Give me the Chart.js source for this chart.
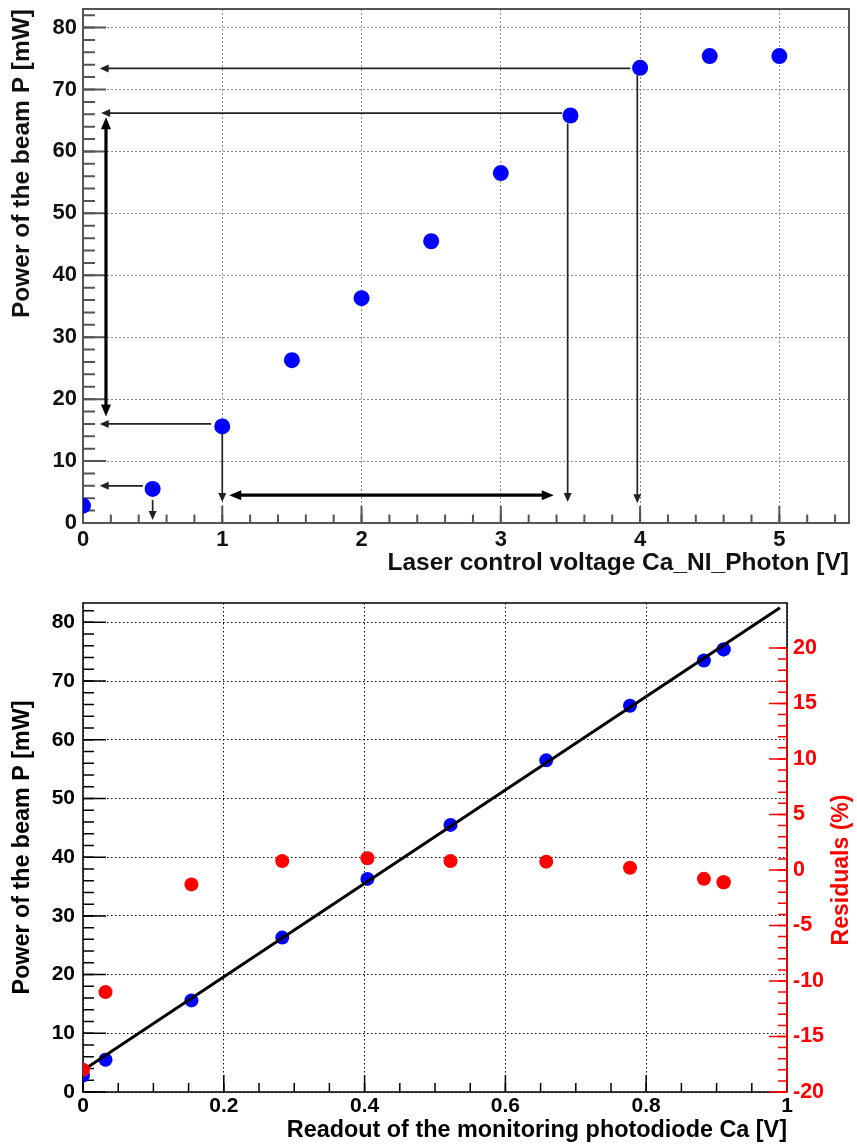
<!DOCTYPE html>
<html><head><meta charset="utf-8">
<script src="https://cdn.jsdelivr.net/npm/chart.js@4.4.0/dist/chart.umd.min.js"></script>
<style>
html,body{margin:0;padding:0;background:#fff;}
#wrap{position:relative;width:857px;height:1146px;background:#fff;}
#c1{position:absolute;left:0;top:0;}
#c2{position:absolute;left:0;top:575px;}
</style></head><body>
<div id="wrap"><canvas id="c1" width="857" height="575"></canvas><canvas id="c2" width="857" height="571"></canvas></div>
<script>
// ---------- data ----------
const voltage    = [0, 0.5, 1, 1.5, 2, 2.5, 3, 3.5, 4, 4.5, 5];
const power      = [2.8, 5.5, 15.6, 26.3, 36.3, 45.5, 56.5, 65.8, 73.5, 75.4, 75.4];
const photodiode = [0, 0.032, 0.154, 0.283, 0.404, 0.522, 0.658, 0.777, 0.882, 0.910, 0.910];
const residuals  = [-18.0, -11.0, -1.3, 0.8, 1.05, 0.8, 0.75, 0.2, -0.8, -1.1, -1.1];
const fitX = [0, 0.99];
const fitY = [3.7, 82.5];
// arrows drawn on the top chart, in data units: [xFrom, yFrom, xTo, yTo]
const arrowsThin = [
  [3.93, 73.4, 0.12, 73.4],
  [3.44, 66.2, 0.13, 66.2],
  [0.92, 16.0, 0.12, 16.0],
  [0.43, 6.0, 0.12, 6.0],
  [0.5, 3.7, 0.5, 0.5],
  [1.0, 14.5, 1.0, 3.4],
  [3.48, 64.5, 3.48, 3.4],
  [3.98, 72.3, 3.98, 3.2]
];
const arrowsDouble = [
  [0.165, 17.2, 0.165, 65.5],
  [1.05, 4.5, 3.38, 4.5]
];
const yTitle = 'Power of the beam P [mW]';
const xTitleTop = 'Laser control voltage Ca_NI_Photon [V]';
const xTitleBottom = 'Readout of the monitoring photodiode Ca [V]';
const y2Title = 'Residuals (%)';

// ---------- helpers ----------
const FONT = "'Liberation Sans', Arial, Helvetica, sans-serif";
Chart.defaults.font.family = FONT;
Chart.defaults.font.weight = 'bold';
Chart.defaults.color = '#000';
const fmt = v => String(Math.round(v * 100) / 100);

function tickSet(ctx, scale, a, from, to, step, len, side, color, width) {
  ctx.save();
  ctx.strokeStyle = color; ctx.lineWidth = width;
  ctx.beginPath();
  const n = Math.floor((to - from) / step + 1e-6);
  for (let k = 0; k <= n; k++) {
    const v = from + k * step;
    const p = scale.getPixelForValue(v);
    if (side === 'bottom') { ctx.moveTo(p, a.bottom); ctx.lineTo(p, a.bottom - len); }
    else if (side === 'left') { ctx.moveTo(a.left, p); ctx.lineTo(a.left + len, p); }
    else { ctx.moveTo(a.right, p); ctx.lineTo(a.right - len, p); }
  }
  ctx.stroke();
  ctx.restore();
}
function drawArrow(ctx, x1, y1, x2, y2, headLen, headHalf, lw, color, both) {
  ctx.save();
  ctx.strokeStyle = color; ctx.fillStyle = color; ctx.lineWidth = lw;
  const ang = Math.atan2(y2 - y1, x2 - x1);
  const c = Math.cos(ang), s = Math.sin(ang);
  const sx = both ? x1 + c * headLen * 0.6 : x1, sy = both ? y1 + s * headLen * 0.6 : y1;
  ctx.beginPath(); ctx.moveTo(sx, sy); ctx.lineTo(x2 - c * headLen * 0.6, y2 - s * headLen * 0.6); ctx.stroke();
  const head = (tx, ty, cc, ss) => {
    ctx.beginPath();
    ctx.moveTo(tx, ty);
    ctx.lineTo(tx - headLen * cc + headHalf * ss, ty - headLen * ss - headHalf * cc);
    ctx.lineTo(tx - headLen * cc - headHalf * ss, ty - headLen * ss + headHalf * cc);
    ctx.closePath(); ctx.fill();
  };
  head(x2, y2, c, s);
  if (both) head(x1, y1, -c, -s);
  ctx.restore();
}
const noPadY = s => { s.paddingTop = 0; s.paddingBottom = 0; };
const noPadX = s => { s.paddingLeft = 0; s.paddingRight = 0; };

// ---------- top chart ----------
const topDecor = {
  id: 'topDecor',
  beforeDatasetsDraw(chart) {
    const { ctx, chartArea: a, scales: { x, y } } = chart;
    tickSet(ctx, x, a, 0, 5.5, 0.2, 8.5, 'bottom', '#555', 2);
    tickSet(ctx, x, a, 0, 5.5, 1, 17, 'bottom', '#555', 2);
    tickSet(ctx, y, a, 0, 83, 2, 12, 'left', '#555', 2);
    tickSet(ctx, y, a, 0, 83, 10, 23, 'left', '#555', 2);
    ctx.save(); ctx.strokeStyle = '#555'; ctx.lineWidth = 2;
    ctx.strokeRect(a.left, a.top, a.right - a.left, a.bottom - a.top); ctx.restore();
    arrowsThin.forEach(r => drawArrow(ctx, x.getPixelForValue(r[0]), y.getPixelForValue(r[1]),
      x.getPixelForValue(r[2]), y.getPixelForValue(r[3]), 9, 4, 1.7, '#222', false));
    arrowsDouble.forEach(r => drawArrow(ctx, x.getPixelForValue(r[0]), y.getPixelForValue(r[1]),
      x.getPixelForValue(r[2]), y.getPixelForValue(r[3]), 12, 5, 3.2, '#000', true));
  }
};

new Chart(document.getElementById('c1'), {
  type: 'scatter',
  data: { datasets: [{
    data: voltage.map((v, i) => ({ x: v, y: power[i] })),
    backgroundColor: '#0000ff', borderWidth: 0, pointRadius: 8, pointHoverRadius: 8
  }] },
  options: {
    responsive: false, animation: false, devicePixelRatio: 1,
    layout: { padding: { top: 9, right: 5, left: 0, bottom: 0 } },
    plugins: { legend: { display: false }, tooltip: { enabled: false } },
    scales: {
      x: {
        type: 'linear', min: 0, max: 5.5,
        afterFit: s => { s.height = 52; noPadX(s); },
        ticks: { stepSize: 1, includeBounds: false, padding: 4, maxRotation: 0, autoSkip: false,
                 callback: fmt, color: '#111', font: { size: 22, weight: 'bold', lineHeight: 1.2 } },
        grid: { color: '#8a8a8a', lineWidth: 1, drawTicks: false },
        border: { display: false, dash: [2, 2] },
        title: { display: true, text: xTitleTop, align: 'end', color: '#111',
                 font: { size: 24.5, weight: 'bold', lineHeight: 1 }, padding: { top: 0, bottom: 0 } }
      },
      y: {
        type: 'linear', min: 0, max: 83,
        afterFit: s => { s.width = 83; noPadY(s); },
        ticks: { stepSize: 10, includeBounds: false, padding: 6, color: '#111', callback: fmt,
                 font: { size: 22, weight: 'bold', lineHeight: 1.2 } },
        grid: { color: '#8a8a8a', lineWidth: 1, drawTicks: false },
        border: { display: false, dash: [2, 2] },
        title: { display: true, text: yTitle, align: 'end', color: '#111',
                 font: { size: 24.5, weight: 'bold', lineHeight: 1 }, padding: { top: 10, bottom: 0 } }
      }
    }
  },
  plugins: [topDecor]
});

// ---------- bottom chart ----------
const botDecor = {
  id: 'botDecor',
  beforeDatasetsDraw(chart) {
    const { ctx, chartArea: a, scales: { x, y, y2 } } = chart;
    tickSet(ctx, x, a, 0, 1, 0.05, 9, 'bottom', '#000', 1.5);
    tickSet(ctx, x, a, 0, 1, 0.2, 17, 'bottom', '#000', 1.5);
    tickSet(ctx, y, a, 0, 83.3, 2, 11, 'left', '#000', 1.5);
    tickSet(ctx, y, a, 0, 83.3, 10, 23, 'left', '#000', 1.5);
    ctx.save(); ctx.strokeStyle = '#000'; ctx.lineWidth = 1.5;
    ctx.strokeRect(a.left, a.top, a.right - a.left, a.bottom - a.top); ctx.restore();
    ctx.save(); ctx.strokeStyle = '#ff0000'; ctx.lineWidth = 1.5;
    ctx.beginPath(); ctx.moveTo(a.right, y2.getPixelForValue(-20)); ctx.lineTo(a.right, y2.getPixelForValue(20)); ctx.stroke();
    ctx.restore();
    tickSet(ctx, y2, a, -20, 20, 1, 9, 'right', '#ff0000', 1.5);
    tickSet(ctx, y2, a, -20, 20, 5, 18, 'right', '#ff0000', 1.5);
  },
  afterDraw(chart) {
    const { ctx, chartArea: a, scales: { y2 } } = chart;
    ctx.save();
    ctx.translate(a.right + 55, y2.getPixelForValue(0));
    ctx.rotate(-Math.PI / 2);
    ctx.font = 'bold 23px ' + FONT;
    ctx.fillStyle = '#ff0000'; ctx.textAlign = 'center'; ctx.textBaseline = 'middle';
    ctx.fillText(y2Title, 0, 0);
    ctx.restore();
  }
};

new Chart(document.getElementById('c2'), {
  type: 'scatter',
  data: { datasets: [
    { data: photodiode.map((v, i) => ({ x: v, y: residuals[i] })), yAxisID: 'y2',
      backgroundColor: '#ff0000', borderWidth: 0, pointRadius: 7, pointHoverRadius: 7, order: 0 },
    { data: fitX.map((v, i) => ({ x: v, y: fitY[i] })), yAxisID: 'y', showLine: true,
      borderColor: '#000', borderWidth: 3, pointRadius: 0, pointHoverRadius: 0, order: 1 },
    { data: photodiode.map((v, i) => ({ x: v, y: power[i] })), yAxisID: 'y',
      backgroundColor: '#0000ff', borderWidth: 0, pointRadius: 7, pointHoverRadius: 7, order: 2 }
  ] },
  options: {
    responsive: false, animation: false, devicePixelRatio: 1,
    layout: { padding: { top: 28, right: 0, left: 0, bottom: 0 } },
    plugins: { legend: { display: false }, tooltip: { enabled: false } },
    scales: {
      x: {
        type: 'linear', min: 0, max: 1,
        afterFit: s => { s.height = 54; noPadX(s); },
        ticks: { stepSize: 0.2, includeBounds: false, padding: 2, maxRotation: 0, autoSkip: false,
                 callback: fmt, font: { size: 21, weight: 'bold', lineHeight: 1.2 } },
        grid: { color: '#000', lineWidth: 1, drawTicks: false },
        border: { display: false, dash: [1.5, 2.5] },
        title: { display: true, text: xTitleBottom, align: 'end',
                 font: { size: 23.4, weight: 'bold', lineHeight: 1 }, padding: { top: 0, bottom: 4 } }
      },
      y: {
        type: 'linear', position: 'left', min: 0, max: 83.3,
        afterFit: s => { s.width = 83; noPadY(s); },
        ticks: { stepSize: 10, includeBounds: false, padding: 8, callback: fmt,
                 font: { size: 21, weight: 'bold', lineHeight: 1.2 } },
        grid: { color: '#000', lineWidth: 1, drawTicks: false },
        border: { display: false, dash: [1.5, 2.5] },
        title: { display: true, text: yTitle, align: 'center',
                 font: { size: 23.3, weight: 'bold', lineHeight: 1 }, padding: { top: 11, bottom: 0 } }
      },
      y2: {
        type: 'linear', position: 'right', min: -20, max: 24.05,
        afterFit: s => { s.width = 70; noPadY(s); },
        ticks: { stepSize: 5, includeBounds: false, padding: 6, color: '#ff0000', callback: fmt,
                 font: { size: 21.5, weight: 'bold', lineHeight: 1.2 } },
        grid: { display: false, drawOnChartArea: false, drawTicks: false },
        border: { display: false }
      }
    }
  },
  plugins: [botDecor]
});
</script>
</body></html>
